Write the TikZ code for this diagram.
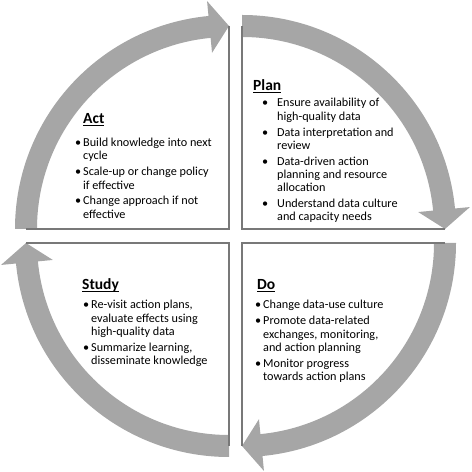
\documentclass[tikz,border=0pt]{standalone}
\usepackage{fontspec}
\setmainfont{Carlito}
\usepackage{tikz}
\usetikzlibrary{positioning,calc}

\definecolor{bandgray}{RGB}{166,166,166}
\definecolor{edgegray}{RGB}{120,120,120}

% bullet box and underlined heading
\newcommand{\bl}{\makebox[6bp]{•}}
\newcommand{\hul}[1]{\setbox0\hbox{#1}\rlap{\rule[-2.2bp]{\wd0}{1.3bp}}\box0}

\begin{document}
\begin{tikzpicture}[
    x=1bp, y=1bp,
    band/.style={fill=bandgray},
    edge/.style={draw=edgegray, line width=1.3bp},
    head/.style={anchor=base west, inner sep=0pt, font=\fontsize{15.5bp}{18bp}\selectfont\bfseries},
    list/.style={anchor=base west, inner sep=0pt, font=\fontsize{12.2bp}{13.3bp}\selectfont},
]
    \useasboundingbox (0,0) rectangle (472,472);

    % quadrant corners
    \coordinate (actc) at (229,243);
    \coordinate (planc) at (242,243);
    \coordinate (doc) at (242,229);
    \coordinate (studyc) at (229,229);

    % curved arrows
    \foreach \c/\a/\b in {actc/180/90, planc/90/0, doc/0/-90, studyc/-90/-180} {
        \pgfmathsetmacro\h{\b+5.5}
        \fill[band] ($(\c)+(\a:214)$) arc[start angle=\a, end angle=\h, radius=214]
            -- ($(\c)+(\h:229)$) -- ($(\c)+(\b:203)$) -- ($(\c)+(\h:177)$)
            -- ($(\c)+(\h:192)$) arc[start angle=\h, end angle=\a, radius=192] -- cycle;
        \draw[edge] ($(\c)+(\b:203)$) -- (\c) -- ($(\c)+(\a:203)$);
    }

    % Act
    \node[head] (acthead) at (83,348) {\hul{Act}};
    \node[list, below=22.7bp of acthead.base west, anchor=base west, xshift=-8bp] (actlist) {%
        \begin{tabular}[t]{@{}l@{\hspace{2bp}}l@{}}
        \bl & Build knowledge into next\\ & cycle\\[2.5bp]
        \bl & Scale-up or change policy\\ & if effective\\[2.5bp]
        \bl & Change approach if not\\ & effective
        \end{tabular}};

    % Plan
    \node[head] (planhead) at (253,381) {\hul{Plan}};
    \node[list, below=16bp of planhead.base west, anchor=base west, xshift=9bp] (planlist) {%
        \begin{tabular}[t]{@{}l@{\hspace{9bp}}l@{}}
        \bl & Ensure availability of\\ & high-quality data\\[2.5bp]
        \bl & Data interpretation and\\ & review\\[2.5bp]
        \bl & Data-driven action\\ & planning and resource\\ & allocation\\[2.5bp]
        \bl & Understand data culture\\ & and capacity needs
        \end{tabular}};

    % Do
    \node[head] (dohead) at (257,182) {\hul{Do}};
    \node[list, below=19bp of dohead.base west, anchor=base west, xshift=-2bp] (dolist) {%
        \begin{tabular}[t]{@{}l@{\hspace{2bp}}l@{}}
        \bl & Change data-use culture\\[2.5bp]
        \bl & Promote data-related\\ & exchanges, monitoring,\\ & and action planning\\[2.5bp]
        \bl & Monitor progress\\ & towards action plans
        \end{tabular}};

    % Study
    \node[head] (studyhead) at (82,182) {\hul{Study}};
    \node[list, below=19bp of studyhead.base west, anchor=base west, xshift=1bp] (studylist) {%
        \begin{tabular}[t]{@{}l@{\hspace{2bp}}l@{}}
        \bl & Re-visit action plans,\\ & evaluate effects using\\ & high-quality data\\[2.5bp]
        \bl & Summarize learning,\\ & disseminate knowledge
        \end{tabular}};
\end{tikzpicture}
\end{document}
